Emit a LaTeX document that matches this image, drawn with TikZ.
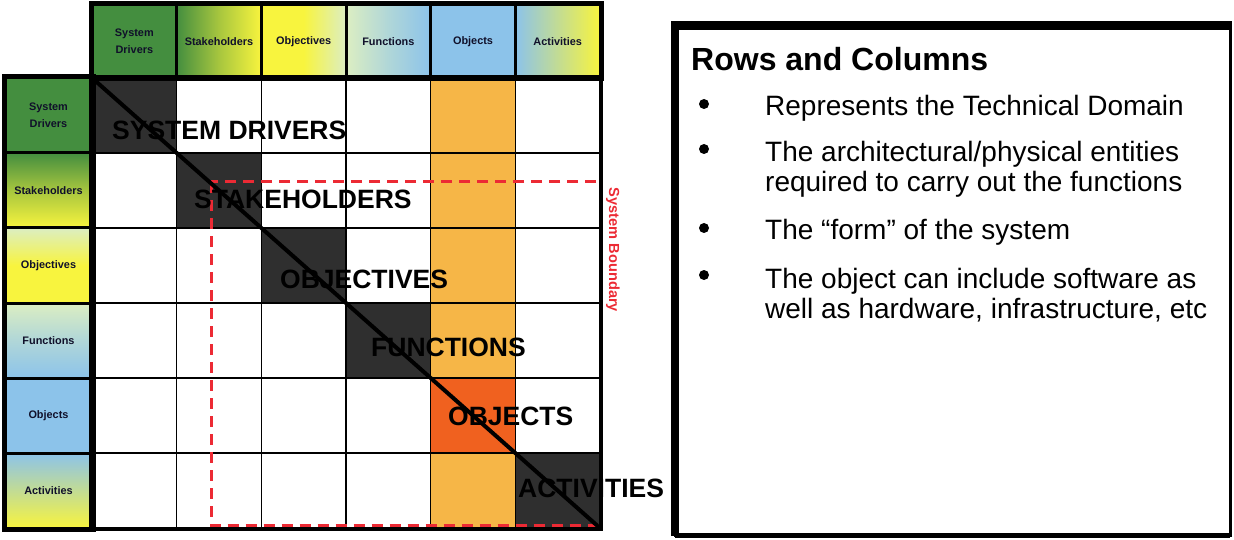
\documentclass[tikz,border=0pt]{standalone}
\usepackage{fontspec}
\setmainfont{Liberation Sans}
\usepackage{xcolor}
\usetikzlibrary{positioning}

\definecolor{drvgreen}{HTML}{448E3F}
\definecolor{objyellow}{HTML}{F8F43E}
\definecolor{fnpale}{HTML}{DCEEC2}
\definecolor{objblue}{HTML}{8CC3EA}
\definecolor{diagdark}{HTML}{2F2F2F}
\definecolor{colorange}{HTML}{F6B647}
\definecolor{hotorange}{HTML}{F0611F}
\definecolor{bndred}{HTML}{EC2A34}
\definecolor{hdrink}{HTML}{10102A}

\begin{document}
\begin{tikzpicture}[
  x=1pt, y=-1pt,
  hdr/.style  = {draw, line width=3pt, minimum width=84.67pt, minimum height=73pt,
                 inner sep=0pt, align=center, text=hdrink,
                 font=\fontsize{10.9}{17}\selectfont\bfseries},
  rhdr/.style = {hdr, minimum width=87pt, minimum height=75pt},
  cell/.style = {draw, line width=1.5pt, minimum width=84.67pt,
                 minimum height=75pt, inner sep=0pt},
  big/.style  = {anchor=west, inner sep=0pt,
                 font=\fontsize{26.5}{30}\selectfont\bfseries},
  bnd/.style  = {draw=bndred, line width=3pt, dash pattern=on 11pt off 7pt},
  bndtxt/.style = {text=bndred, inner sep=0pt,
                   font=\fontsize{14.6}{16}\selectfont\bfseries},
  ttl/.style  = {anchor=west, inner sep=0pt,
                 font=\fontsize{32}{36}\selectfont\bfseries},
  note/.style = {anchor=base west, inner sep=0pt, align=left,
                 font=\fontsize{28}{30}\selectfont},
  dot/.style  = {circle, fill=black, inner sep=0pt, minimum size=10pt},
  % column header fills
  hdrv/.style = {fill=drvgreen},
  hstk/.style = {left color=drvgreen, right color=objyellow, middle color=drvgreen!45!objyellow},
  hobj/.style = {left color=objyellow, right color=fnpale, middle color=objyellow},
  hfun/.style = {left color=fnpale, right color=objblue, middle color=fnpale!45!objblue},
  hobs/.style = {fill=objblue},
  hact/.style = {left color=objblue, right color=objyellow, middle color=objblue!50!objyellow},
  % row header fills
  vdrv/.style = {fill=drvgreen},
  vstk/.style = {top color=drvgreen, bottom color=objyellow, middle color=drvgreen!45!objyellow},
  vobj/.style = {top color=fnpale, bottom color=objyellow, middle color=objyellow},
  vfun/.style = {top color=fnpale, bottom color=objblue, middle color=fnpale!45!objblue},
  vobs/.style = {fill=objblue},
  vact/.style = {top color=objblue, bottom color=objyellow, middle color=objblue!50!objyellow}
]
\useasboundingbox (0,0) rectangle (1234,540);

% ---------- headers ----------------------------------------------------------
\foreach \i/\lbl/\shd in {1/{System\\Drivers}/drv, 2/Stakeholders/stk,
    3/Objectives/obj, 4/Functions/fun, 5/Objects/obs, 6/Activities/act}{
  \node[hdr, h\shd] (h\i) at ({92+(\i-0.5)*84.67},41.5) {\lbl};
  \node[rhdr, v\shd] (r\i) at (48.5,{78+(\i-0.5)*75}) {\lbl};
}

% ---------- matrix cells -----------------------------------------------------
\foreach \r in {1,...,6}{
  \foreach \c in {1,...,6}{
    \ifnum\c=5 \def\cellfill{colorange}\else\def\cellfill{white}\fi
    \ifnum\r=\c
      \ifnum\c=5 \def\cellfill{hotorange}\else\def\cellfill{diagdark}\fi
    \fi
    \node[cell, fill=\cellfill] (m\r\c) at ({92+(\c-0.5)*84.67},{78+(\r-0.5)*75}) {};
  }
}

% ---------- system boundary --------------------------------------------------
\coordinate (bndNW) at (211,182);
\coordinate (bndSE) at (600,525.5);
\draw[bnd] (bndNW) rectangle (bndSE);

% ---------- frames and diagonal ----------------------------------------------
\draw[line width=4pt] (h1.north west) rectangle (h6.south east);
\draw[line width=4pt] (r1.north west) rectangle (r6.south east);
\draw[line width=4pt] (m11.north west) rectangle (m66.south east);
\draw[line width=4pt] (m11.north west) -- (m66.south east);

% ---------- diagonal labels --------------------------------------------------
\node[big] (lDrv) at (112,130) {SYSTEM DRIVERS};
\node[big] (lStk) at (194,199) {STAKEHOLDERS};
\node[big] (lObj) at (280,279) {OBJECTIVES};
\node[big] (lFun) at (371,347) {FUNCTIONS};
\node[big] (lObs) at (448,416) {OBJECTS};
\node[big] (lAct) at (518,488) {ACTIVITIES};

\node[bndtxt, rotate=-90] (lBnd) at (613,250) {System Boundary};

% ---------- notes box --------------------------------------------------------
\coordinate (boxNW) at (675,25.5);
\coordinate (boxSE) at (1230,535.5);
\draw[line width=3pt] (boxNW) rectangle (boxSE);
\draw[line width=8.5pt] (boxNW |- boxSE) -- (boxNW) -- (1231.5,25.5);
\draw[line width=5pt] (boxNW |- boxSE) -- (boxSE);

\node[ttl] (title) at (691,59) {Rows and Columns};

\node[note] (n1) at (765,116) {Represents the Technical Domain};
\node[note] (n2) at (765,192) {The architectural/physical entities\\required to carry out the functions};
\node[note] (n3) at (765,240) {The “form” of the system};
\node[note] (n4) at (765,318) {The object can include software as\\well as hardware, infrastructure, etc};

\node[dot] (d1) at (704,104) {};
\node[dot] (d2) at (704,149) {};
\node[dot] (d3) at (704,228) {};
\node[dot] (d4) at (704,275) {};

\end{tikzpicture}
\end{document}
